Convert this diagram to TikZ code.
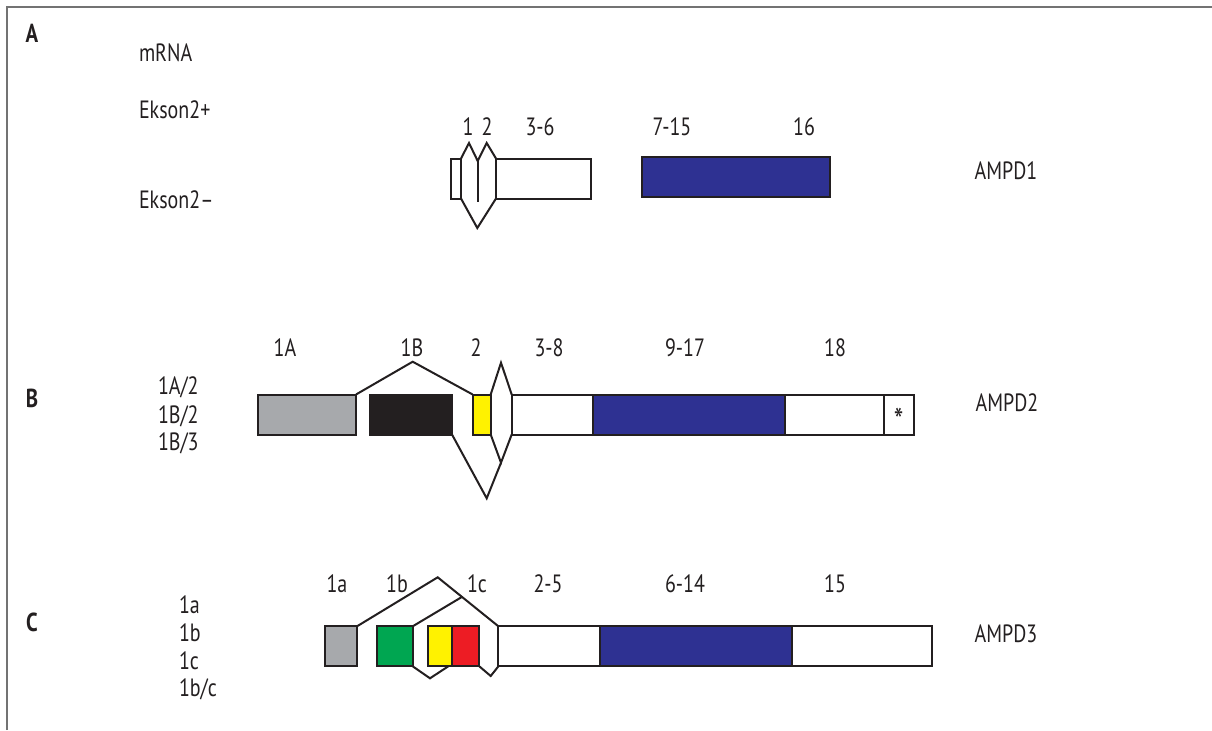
\documentclass[tikz,border=0pt]{standalone}
\usepackage{fontspec}
\setmainfont{PT Sans}[FakeStretch=0.8]
\usetikzlibrary{calc}
\definecolor{ampblue}{RGB}{46,49,146}
\definecolor{ampgray}{RGB}{167,169,172}
\definecolor{ampblack}{RGB}{35,31,32}
\definecolor{ampyellow}{RGB}{255,242,0}
\definecolor{ampgreen}{RGB}{0,166,81}
\definecolor{ampred}{RGB}{237,28,36}

\begin{document}
\begin{tikzpicture}[x=0.5pt, y=-0.5pt, line width=1pt, draw=ampblack,
    exon/.style={draw=ampblack, rectangle, inner sep=0pt, outer sep=0pt, minimum height=20pt},
    lbl/.style={inner sep=0pt, text=ampblack, font=\fontsize{12.5}{14}\selectfont},
    side/.style={lbl, anchor=west},
    panel/.style={lbl, font=\fontsize{13}{15}\selectfont\bfseries}]
    \useasboundingbox (0,0) rectangle (1212,730);
    \draw[black!55] (6.7,730) -- (6.7,6.7) -- (1212,6.7);

    % A
    \node[panel] (A) at (32,33) {A};
    \node[side] (mrna) at (138,53) {mRNA};
    \node[side] (ep) at (138,110) {Ekson2+};
    \node[side] (em) at (138,200) {Ekson2–};

    \node[exon, minimum width=5pt] (a0) at (456,178.5) {};
    \node[exon, minimum width=47.5pt] (a36) at (543.5,178.5) {};
    \node[exon, fill=ampblue, minimum width=94pt] (a715) at (736,177) {};
    \coordinate (a1) at (469,143);
    \coordinate (a12) at (477.7,161);
    \coordinate (a2) at (486.7,143);
    \coordinate (a12b) at (477.7,202);
    \coordinate (alow) at (477.3,228);
    \draw (a0.north east) -- (a1) -- (a12) -- (a2) -- (a36.north west);
    \draw (a12) -- (a12b);
    \draw (a0.south east) -- (alow) -- (a36.south west);

    \node[lbl] (la1) at (468,127) {1};
    \node[lbl] (la2) at (487,127) {2};
    \node[lbl] (la36) at (540,127) {3-6};
    \node[lbl] (la715) at (672,127) {7-15};
    \node[lbl] (la16) at (804,127) {16};
    \node[lbl] (ampd1) at (1006,171) {AMPD1};

    % B
    \node[panel] (B) at (32,398) {B};
    \node[side] (b1) at (157,387) {1A/2};
    \node[side] (b2) at (157,416) {1B/2};
    \node[side] (b3) at (157,443) {1B/3};

    \node[exon, fill=ampgray, minimum width=49pt] (g1A) at (307,414.5) {};
    \node[exon, fill=ampblack, minimum width=41pt] (k1B) at (411,414.5) {};
    \node[exon, fill=ampyellow, minimum width=9pt] (y2) at (481.7,414.5) {};
    \node[exon, minimum width=40.5pt] (w38) at (552.2,414.5) {};
    \node[exon, fill=ampblue, minimum width=96pt] (b917) at (688.7,414.5) {};
    \node[exon, minimum width=49.5pt] (w18) at (834.2,414.5) {};
    \node[exon, minimum width=15pt] (star) at (898.7,414.5) {};
    \node[lbl, font=\fontsize{17}{17}\selectfont] (st) at (898.7,420) {*};
    \coordinate (pk1B) at (412.7,361.7);
    \coordinate (lt) at (501,362.7);
    \coordinate (lb) at (501,462.7);
    \coordinate (vb) at (486.7,498.3);
    \draw (g1A.north east) -- (pk1B) -- (y2.north west);
    \draw (y2.north east) -- (lt) -- (w38.north west);
    \draw (y2.south east) -- (lb) -- (w38.south west);
    \draw (k1B.south east) -- (vb) -- (lb);

    \node[lbl] (l1A) at (285,348) {1A};
    \node[lbl] (l1B) at (412,348) {1B};
    \node[lbl] (l2) at (476,348) {2};
    \node[lbl] (l38) at (549,348) {3-8};
    \node[lbl] (l917) at (685,348) {9-17};
    \node[lbl] (l18) at (835,348) {18};
    \node[lbl] (ampd2) at (1007,403) {AMPD2};

    % C
    \node[panel] (C) at (32,622) {C};
    \node[side] (c1) at (178,605) {1a};
    \node[side] (c2) at (178,633) {1b};
    \node[side] (c3) at (178,661) {1c};
    \node[side] (c4) at (178,689) {1b/c};

    \node[exon, fill=ampgray, minimum width=16pt] (g1a) at (341,646.3) {};
    \node[exon, fill=ampgreen, minimum width=17.7pt] (gr1b) at (395,646.3) {};
    \node[exon, fill=ampyellow, minimum width=12.3pt] (y1c) at (440,646.3) {};
    \node[exon, fill=ampred, minimum width=13.5pt] (r1c) at (465.8,646.3) {};
    \node[exon, minimum width=50.8pt] (w25) at (549.2,646.3) {};
    \node[exon, fill=ampblue, minimum width=96.2pt] (b614) at (696.2,646.3) {};
    \node[exon, minimum width=70pt] (w15) at (862.3,646.3) {};
    \coordinate (pk1a) at (437.7,577.3);
    \coordinate (j1b) at ($(pk1a)!0.4!(w25.north west)$);
    \coordinate (vb1) at (430,678.3);
    \coordinate (vb2) at (490.7,676);
    \draw (g1a.north east) -- (pk1a) -- (w25.north west);
    \draw (gr1b.north east) -- (j1b);
    \draw (gr1b.south east) -- (vb1) -- ([xshift=-2pt]y1c.south east);
    \draw (r1c.south east) -- (vb2) -- (w25.south west);

    \node[lbl] (l1a) at (337,584) {1a};
    \node[lbl] (l1b) at (397,584) {1b};
    \node[lbl] (l1c) at (477,584) {1c};
    \node[lbl] (l25) at (548,584) {2-5};
    \node[lbl] (l614) at (685,584) {6-14};
    \node[lbl] (l15) at (835,584) {15};
    \node[lbl] (ampd3) at (1006,634) {AMPD3};
  \end{tikzpicture}
\end{document}
